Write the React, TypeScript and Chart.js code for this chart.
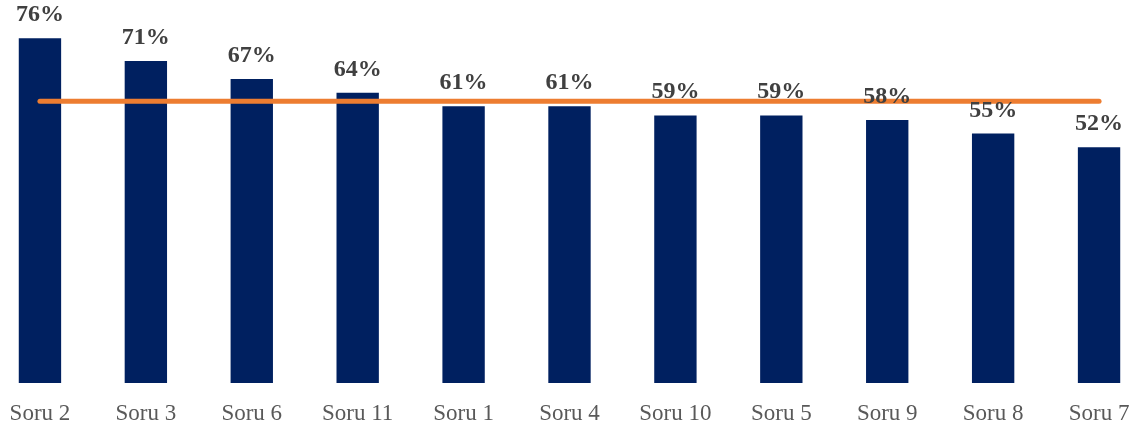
import React, { useEffect, useRef } from "react";
import { Chart, registerables } from "chart.js";

Chart.register(...registerables);

const categories = ["Soru 2", "Soru 3", "Soru 6", "Soru 11", "Soru 1", "Soru 4", "Soru 10", "Soru 5", "Soru 9", "Soru 8", "Soru 7"];
const values = [76, 71, 67, 64, 61, 61, 59, 59, 58, 55, 52];
const averageValue = 62.1;
const averageLine = categories.map(() => averageValue);

const FONT = "'Liberation Serif', 'Times New Roman', serif";

const labelPlugin = {
  id: "barLabels",
  afterDatasetsDraw(chart: any) {
    const ctx = chart.ctx;
    const meta = chart.getDatasetMeta(1);
    ctx.save();
    ctx.font = "700 24px " + FONT;
    ctx.fillStyle = "#404040";
    ctx.textAlign = "center";
    ctx.textBaseline = "alphabetic";
    meta.data.forEach((bar: any, i: number) => {
      ctx.fillText(values[i] + "%", bar.x, bar.y - 17);
    });
    ctx.restore();
  },
};

export default function App() {
  const ref = useRef<HTMLCanvasElement>(null);
  useEffect(() => {
    let chart: any = null;
    let cancelled = false;
    const make = () => {
      if (cancelled || !ref.current) return;
      chart = new Chart(ref.current, {
        type: "bar",
        data: {
          labels: categories,
          datasets: [
            {
              type: "line",
              data: averageLine,
              borderColor: "#ED7D31",
              borderWidth: 5,
              borderCapStyle: "round",
              pointRadius: 0,
              order: 0,
            } as any,
            {
              type: "bar",
              data: values,
              backgroundColor: "#002060",
              categoryPercentage: 1,
              barPercentage: 0.4,
              order: 1,
            },
          ],
        },
        options: {
          responsive: false,
          animation: false,
          layout: { padding: { top: 2, bottom: 0, left: 0, right: 0 } },
          plugins: { legend: { display: false }, tooltip: { enabled: false } },
          scales: {
            x: {
              offset: true,
              grid: { display: false, drawTicks: false },
              border: { display: false },
              afterFit: (scale: any) => {
                scale.height = 49;
              },
              ticks: {
                color: "#595959",
                padding: 17,
                maxRotation: 0,
                autoSkip: false,
                font: { family: FONT, size: 23 },
              },
            },
            y: {
              display: false,
              min: 0,
              max: 84,
            },
          },
        },
        plugins: [labelPlugin],
      });
    };
    const fonts: any = (document as any).fonts;
    if (fonts && fonts.load) {
      Promise.all([fonts.load("700 24px 'Liberation Serif'"), fonts.load("23px 'Liberation Serif'")])
        .catch(() => null)
        .then(make);
    } else {
      make();
    }
    return () => {
      cancelled = true;
      if (chart) chart.destroy();
    };
  }, []);
  return (
    <div style={{ position: "fixed", left: 0, top: 0, width: 1142, height: 432, overflow: "hidden", background: "#fff" }}>
      <div style={{ position: "absolute", left: -13, top: 0 }}>
        <canvas ref={ref} width={1165} height={432} style={{ display: "block" }} />
      </div>
    </div>
  );
}
